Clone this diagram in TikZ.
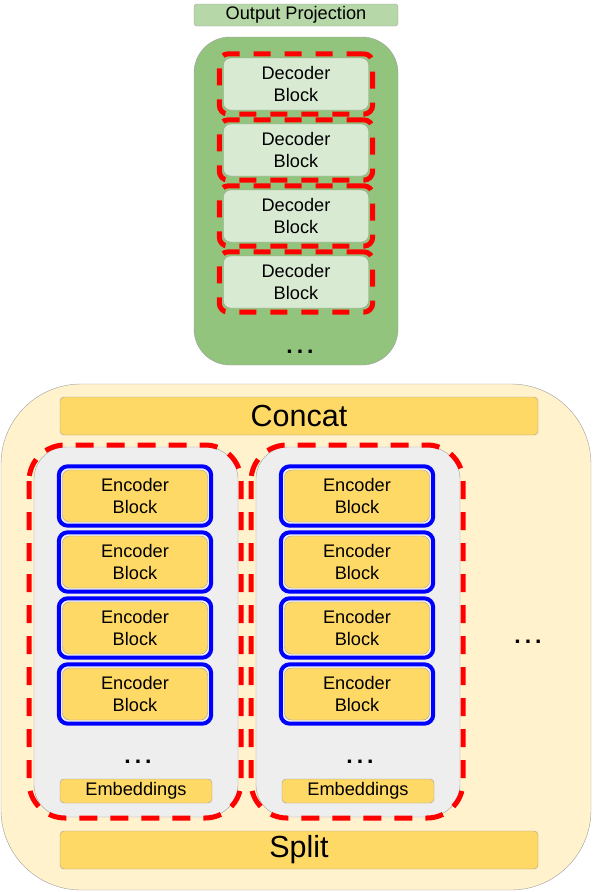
\documentclass[tikz,border=0pt]{standalone}
\usepackage{fontspec}
\setmainfont{Liberation Sans}
\usetikzlibrary{fit}
\definecolor{gbg}{HTML}{93C47D}
\definecolor{gbox}{HTML}{D9EAD3}
\definecolor{gproj}{HTML}{B6D7A8}
\definecolor{ybg}{HTML}{FFF2CC}
\definecolor{ybox}{HTML}{FFD966}
\definecolor{graybg}{HTML}{EEEEEE}
\definecolor{bord}{HTML}{9E9E9E}
\newcommand{\mydots}{.\hspace{4pt}.\hspace{4pt}.}
\begin{document}
\begin{tikzpicture}[x=1pt,y=-1pt,
  txt/.style={font=\fontsize{18.2}{22}\selectfont, align=center},
  decbox/.style={txt, draw=bord, fill=gbox, rounded corners=7pt, minimum width=145pt, minimum height=52pt, inner sep=0pt},
  encbox/.style={txt, draw=bord, fill=ybox, rounded corners=7pt, minimum width=145pt, minimum height=52pt, inner sep=0pt},
  redframe/.style={draw=red, line width=5pt, dash pattern=on 17pt off 14pt, rounded corners=9pt, inner sep=4pt},
  blueframe/.style={draw=blue, line width=4pt, rounded corners=9pt, inner sep=3.5pt},
  bar/.style={draw=bord, fill=ybox, rounded corners=4pt, inner sep=0pt},
  dots/.style={font=\bfseries\fontsize{23}{23}\selectfont, inner sep=0pt}
]
\useasboundingbox (0,0) rectangle (592,892);
% decoder part
\node[draw=bord, fill=gproj, rounded corners=3pt, minimum width=204pt, minimum height=22pt, inner sep=0pt, txt] (proj) at (296,15) {Output Projection};
\draw[draw=bord, fill=gbg, rounded corners=36pt] (194,37) rectangle (398,365);
\foreach \i/\y in {1/84,2/150,3/216,4/282}{
  \node[decbox] (d\i) at (296,\y) {Decoder\\Block};
  \node[redframe, fit=(d\i)] (rd\i) {};
}
\node[dots] (ddots) at (300,352) {\mydots};
% encoder part
\draw[draw=bord, fill=ybg, rounded corners=80pt] (1,384) rectangle (591,890);
\node[bar, minimum width=478pt, minimum height=38pt, font=\fontsize{30.5}{30}\selectfont] (concat) at (299,416) {Concat};
\node[bar, minimum width=478pt, minimum height=38pt, font=\fontsize{30.5}{30}\selectfont] (split) at (299,850) {Split};
\foreach \c/\x in {1/136,2/358}{
  \draw[draw=bord, fill=graybg, rounded corners=32pt] (\x-102,447) rectangle (\x+102,817);
  \draw[red, line width=5pt, dash pattern=on 18pt off 13pt, rounded corners=36pt] (\x-107,445) rectangle (\x+105,818);
  \foreach \i/\y in {1/496,2/562,3/628,4/694}{
    \node[encbox] (e\c\i) at (\x-1,\y) {Encoder\\Block};
    \node[blueframe, fit=(e\c\i)] (be\c\i) {};
  }
  \node[dots] (edots\c) at (\x+2,762) {\mydots};
  \node[bar, txt, minimum width=152pt, minimum height=24pt] (emb\c) at (\x,791) {Embeddings};
}
\node[dots] (rdots) at (528,642) {\mydots};
\end{tikzpicture}
\end{document}
